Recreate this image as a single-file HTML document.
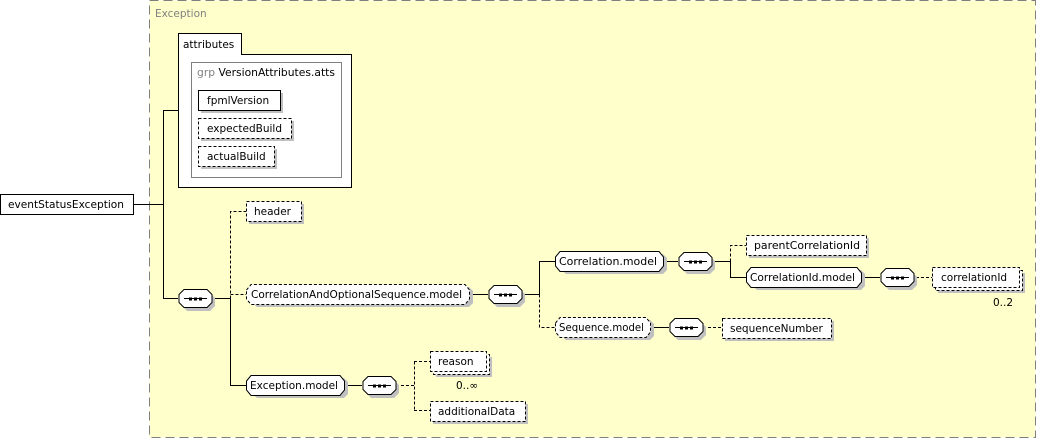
<!DOCTYPE html>
<html><head><meta charset="utf-8"><style>
html,body{margin:0;padding:0;background:#fff;}
svg text{font-family:"DejaVu Sans","Liberation Sans",sans-serif;font-size:10.5px;fill:#000;}
</style></head><body>
<svg width="1037" height="439" xmlns="http://www.w3.org/2000/svg">
<rect x="149.5" y="0.5" width="886" height="437" fill="#ffffcc" stroke="#808080" stroke-dasharray="9,5"/>
<text x="155" y="17" style="fill:#808080">Exception</text>

<path d="M178.5,187.5 V33.5 H241.5 V54.5 H351.5 V187.5 Z" fill="#fff" stroke="#000"/>
<text x="183" y="48">attributes</text>
<rect x="191.5" y="62.5" width="150" height="115" fill="#fff" stroke="#808080"/>
<text x="197" y="76" textLength="138" lengthAdjust="spacingAndGlyphs"><tspan style="fill:#808080">grp</tspan> VersionAttributes.atts</text>
<rect x="201" y="93" width="82" height="20" fill="#c0c0c0"/>
<rect x="198.5" y="90.5" width="82" height="20" fill="#fff" stroke="#000"/>
<text x="207" y="104">fpmlVersion</text>
<rect x="201" y="121" width="93" height="20" fill="#c0c0c0"/>
<rect x="198.5" y="118.5" width="93" height="20" fill="#fff" stroke="#000" stroke-dasharray="3,2"/>
<text x="207" y="132">expectedBuild</text>
<rect x="201" y="149" width="76" height="20" fill="#c0c0c0"/>
<rect x="198.5" y="146.5" width="76" height="20" fill="#fff" stroke="#000" stroke-dasharray="3,2"/>
<text x="207" y="160">actualBuild</text>

<rect x="0.5" y="194.5" width="133" height="20" fill="#fff" stroke="#000"/>
<text x="8" y="208" textLength="116" lengthAdjust="spacingAndGlyphs">eventStatusException</text>
<g stroke="#000" fill="none">
<path d="M133,204.5 H163.5 M163.5,110.5 V298.5 M163,110.5 H178 M163,298.5 H178"/>
<path d="M212,298.5 H230.5 M230.5,298.5 V385.5 H246"/>
<path d="M230.5,298.5 V211.5 H246 M230.5,294.5 H246" stroke-dasharray="3,2"/>
<path d="M469,294.5 H488 M522,294.5 H539.5 V261.5 H555"/>
<path d="M539.5,294.5 V327.5 H555" stroke-dasharray="3,2"/>
<path d="M663,261.5 H678 M714,261.5 H730.5 V277.5 H746 M861,277.5 H880"/>
<path d="M730.5,261.5 V245.5 H746 M916,277.5 H932" stroke-dasharray="3,2"/>
<path d="M703,327.5 H722" stroke-dasharray="3,2"/>
<path d="M650,327.5 H669"/>
<path d="M344,385.5 H362"/>
<path d="M396,385.5 H414.5 M414.5,361.5 V410.5 M414,361.5 H430 M414,410.5 H430" stroke-dasharray="3,2"/>
</g>

<rect x="249" y="204" width="55" height="20" fill="#c0c0c0"/>
<rect x="246.5" y="201.5" width="55" height="20" fill="#fff" stroke="#000" stroke-dasharray="3,2"/>
<text x="254" y="215">header</text>

<defs>
<g id="comp"><path d="M1,6 L6,1 H29 L34,6 V14 L29,19 H6 L1,14 Z" fill="#fff" stroke="#000"/>
<path d="M6,10 H29" stroke="#000"/><rect x="11" y="9" width="3" height="3"/><rect x="16" y="9" width="3" height="3"/><rect x="21" y="9" width="3" height="3"/></g>
<path id="compsh" d="M1,6 L6,1 H29 L34,6 V14 L29,19 H6 L1,14 Z" fill="#c0c0c0"/>
</defs>
<g transform="translate(181,292)"><use href="#compsh"/></g><g transform="translate(178,288.5)"><use href="#comp"/></g>
<g transform="translate(491,288)"><use href="#compsh"/></g><g transform="translate(488,284.5)"><use href="#comp"/></g>
<g transform="translate(681,255)"><use href="#compsh"/></g><g transform="translate(678,251.5)"><use href="#comp"/></g>
<g transform="translate(883,271)"><use href="#compsh"/></g><g transform="translate(880,267.5)"><use href="#comp"/></g>
<g transform="translate(672,321)"><use href="#compsh"/></g><g transform="translate(669,317.5)"><use href="#comp"/></g>
<g transform="translate(365,379)"><use href="#compsh"/></g><g transform="translate(362,375.5)"><use href="#comp"/></g>

<path d="M252,291 L257,287 H469 L473,291 V303 L469,307 H257 L252,303 Z" fill="#c0c0c0"/>
<path d="M246.5,290 L251,284.5 H465 L469.5,290 V299 L465,304.5 H251 L246.5,299 Z" fill="#fff" stroke="#000" stroke-dasharray="3,2"/>
<text x="251" y="298" textLength="211" lengthAdjust="spacingAndGlyphs">CorrelationAndOptionalSequence.model</text>

<path d="M561,258 L566,254 H663 L667,258 V270 L663,274 H566 L561,270 Z" fill="#c0c0c0"/>
<path d="M555.5,257 L560,251.5 H659 L663.5,257 V266 L659,271.5 H560 L555.5,266 Z" fill="#fff" stroke="#000"/>
<text x="559" y="265" textLength="98" lengthAdjust="spacingAndGlyphs">Correlation.model</text>

<path d="M752,274 L757,270 H861 L865,274 V286 L861,290 H757 L752,286 Z" fill="#c0c0c0"/>
<path d="M746.5,273 L751,267.5 H857 L861.5,273 V282 L857,287.5 H751 L746.5,282 Z" fill="#fff" stroke="#000"/>
<text x="750" y="281" textLength="105" lengthAdjust="spacingAndGlyphs">CorrelationId.model</text>

<path d="M561,324 L566,320 H650 L654,324 V336 L650,340 H566 L561,336 Z" fill="#c0c0c0"/>
<path d="M555.5,323 L560,317.5 H646 L650.5,323 V332 L646,337.5 H560 L555.5,332 Z" fill="#fff" stroke="#000" stroke-dasharray="3,2"/>
<text x="559" y="331" textLength="85" lengthAdjust="spacingAndGlyphs">Sequence.model</text>

<path d="M252,382 L257,378 H344 L348,382 V394 L344,398 H257 L252,394 Z" fill="#c0c0c0"/>
<path d="M246.5,381 L251,375.5 H340 L344.5,381 V390 L340,395.5 H251 L246.5,390 Z" fill="#fff" stroke="#000"/>
<text x="250" y="389" textLength="88" lengthAdjust="spacingAndGlyphs">Exception.model</text>

<rect x="749" y="238" width="120" height="20" fill="#c0c0c0"/>
<rect x="746.5" y="235.5" width="120" height="20" fill="#fff" stroke="#000" stroke-dasharray="3,2"/>
<text x="754" y="249" textLength="106" lengthAdjust="spacingAndGlyphs">parentCorrelationId</text>

<rect x="938" y="273" width="87" height="20" fill="#c0c0c0"/>
<rect x="935.5" y="270.5" width="87" height="20" fill="#fff" stroke="#000" stroke-dasharray="3,2"/>
<rect x="932.5" y="267.5" width="87" height="20" fill="#fff" stroke="#000" stroke-dasharray="3,2"/>
<text x="941" y="281">correlationId</text>
<text x="993" y="306">0..2</text>

<rect x="725" y="321" width="109" height="20" fill="#c0c0c0"/>
<rect x="722.5" y="318.5" width="109" height="20" fill="#fff" stroke="#000" stroke-dasharray="3,2"/>
<text x="730" y="332">sequenceNumber</text>

<rect x="436" y="357" width="56" height="20" fill="#c0c0c0"/>
<rect x="433.5" y="354.5" width="56" height="20" fill="#fff" stroke="#000" stroke-dasharray="3,2"/>
<rect x="430.5" y="351.5" width="56" height="20" fill="#fff" stroke="#000" stroke-dasharray="3,2"/>
<text x="438" y="365">reason</text>
<text x="456" y="389">0..∞</text>

<rect x="433" y="404" width="95" height="20" fill="#c0c0c0"/>
<rect x="430.5" y="401.5" width="95" height="20" fill="#fff" stroke="#000" stroke-dasharray="3,2"/>
<text x="438" y="415">additionalData</text>
</svg>
</body></html>
